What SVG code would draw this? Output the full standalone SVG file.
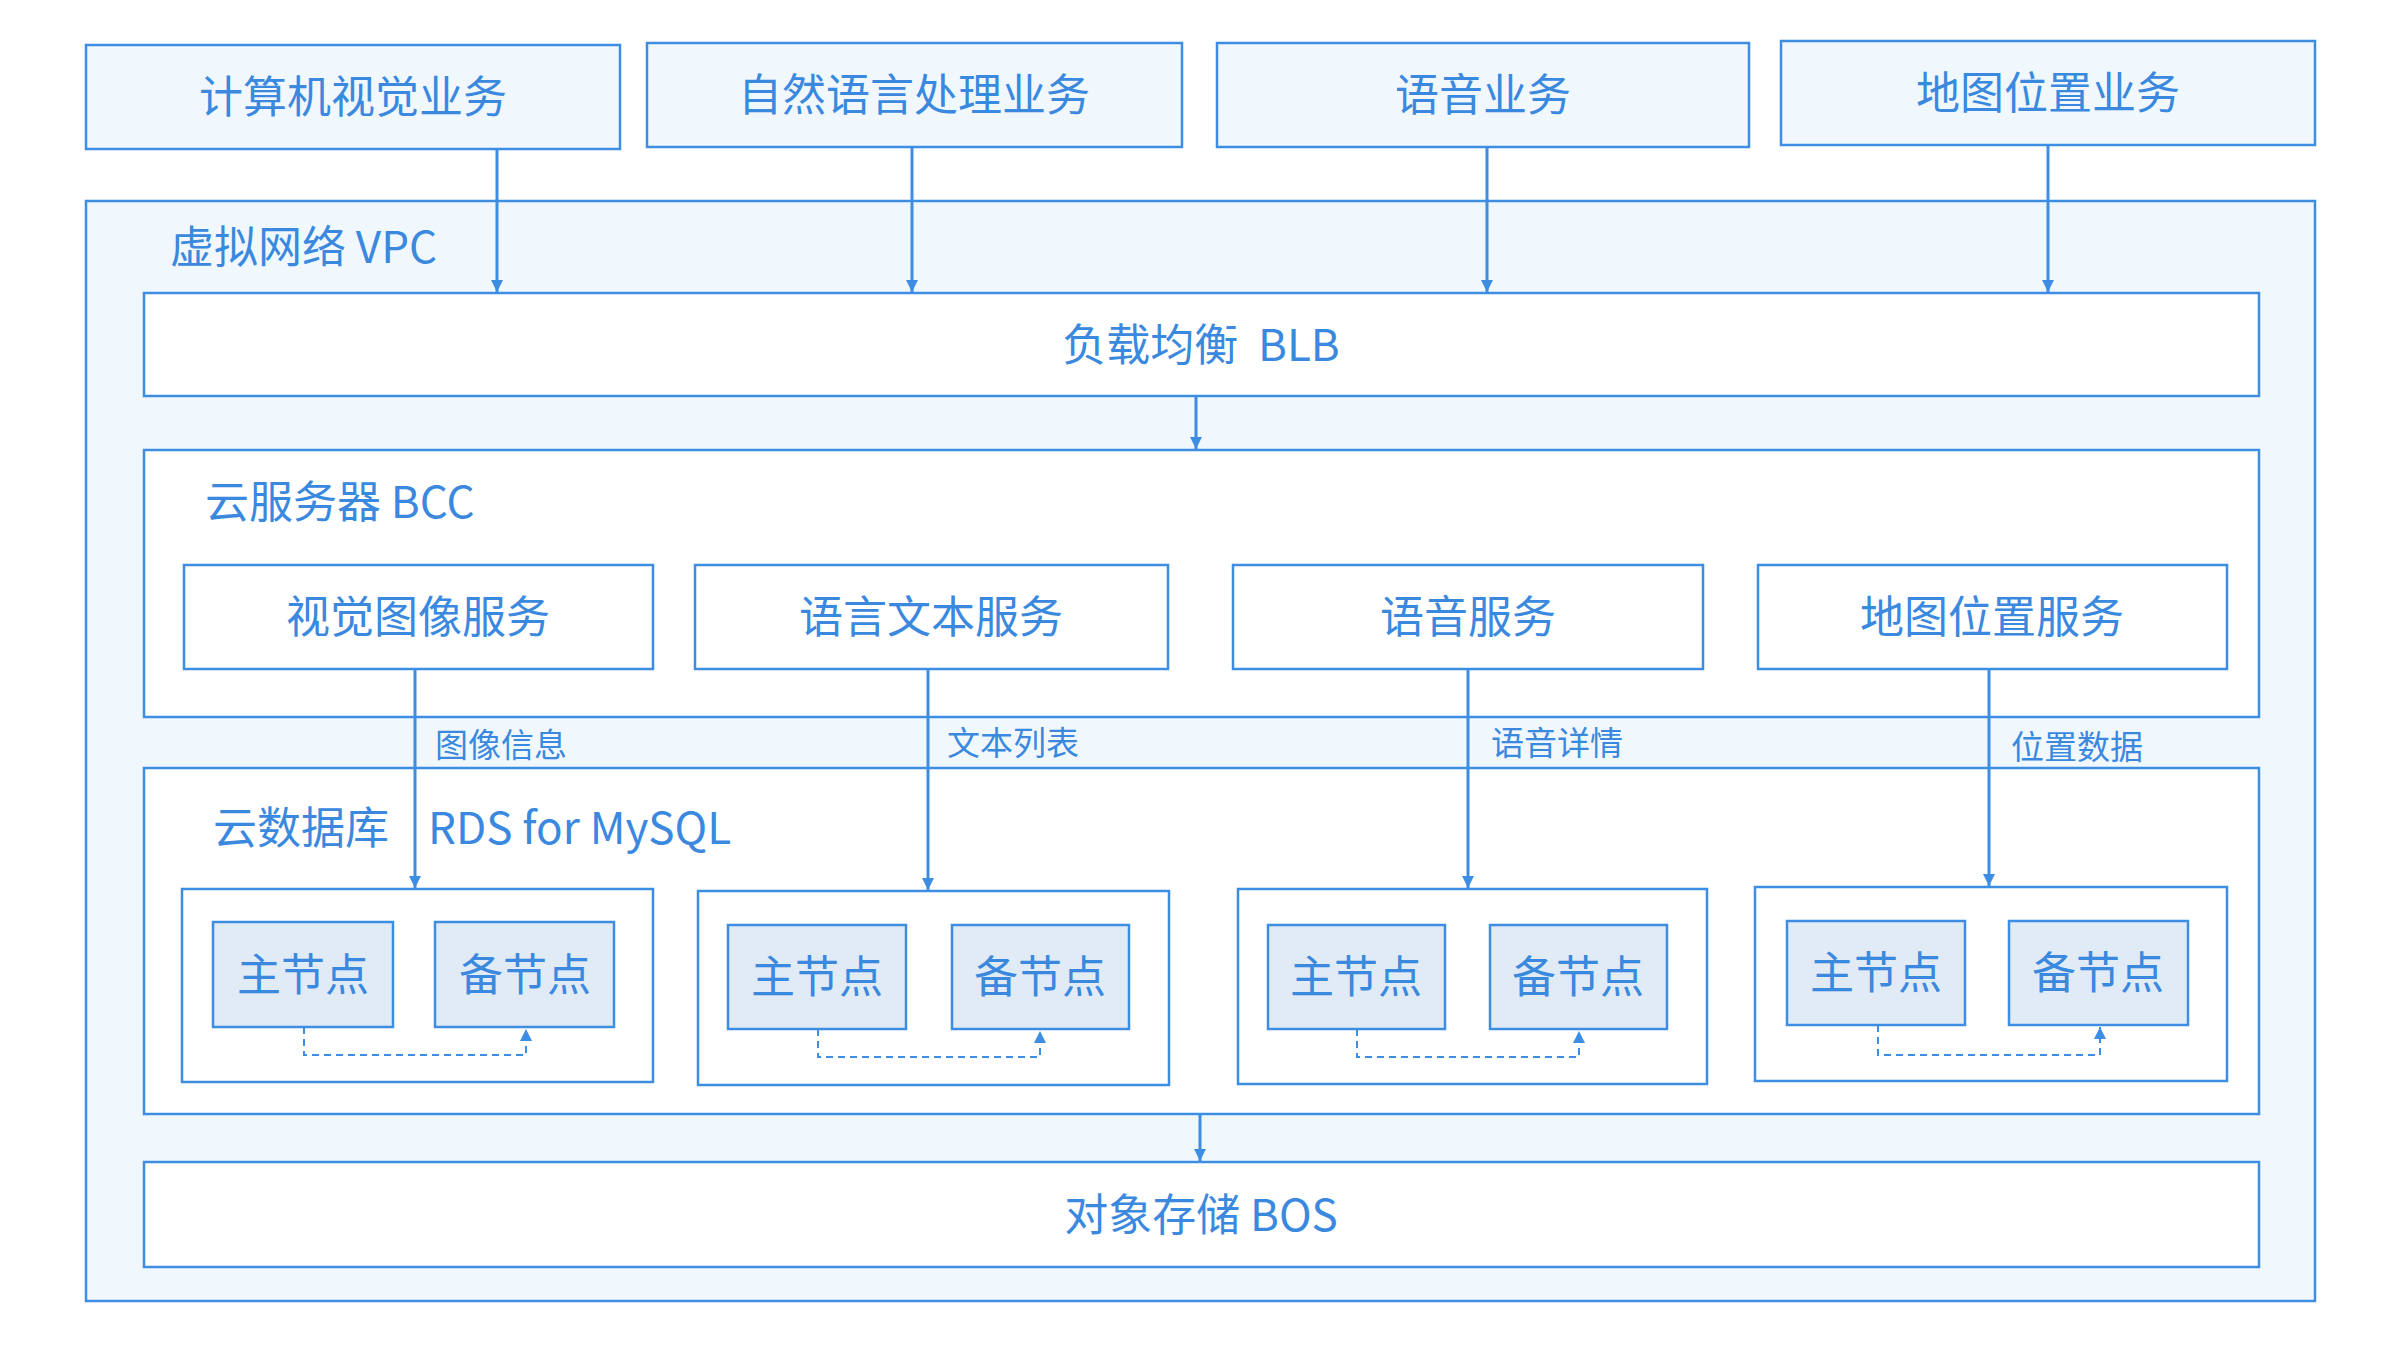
<svg xmlns="http://www.w3.org/2000/svg" width="2396" height="1350" viewBox="0 0 2396 1350">
<defs>
<style>
.b{fill:#f1f8fd;stroke:#3d8de3;stroke-width:2.5}
.w{fill:#ffffff;stroke:#3d8de3;stroke-width:2.5}
.n{fill:#e1ebf6;stroke:#3d8de3;stroke-width:2.5}
text{font-family:"Noto Sans CJK SC","Noto Sans",sans-serif;fill:#3a89df}
.t{font-size:44px;text-anchor:middle;dominant-baseline:central}
.l{font-size:44px}
.s{font-size:33px}
.c{stroke:#3d8de3;stroke-width:3;fill:none}
.d{stroke:#3d8de3;stroke-width:2;fill:none;stroke-dasharray:7 5}
</style>
<marker id="a" viewBox="0 0 10 10" refX="10" refY="5" markerWidth="16" markerHeight="12" markerUnits="userSpaceOnUse" orient="auto"><path d="M0,0L10,5L0,10z" fill="#3d8de3"/></marker>
<marker id="a2" viewBox="0 0 10 10" refX="10" refY="5" markerWidth="14" markerHeight="12" markerUnits="userSpaceOnUse" orient="auto"><path d="M0,0L10,5L0,10z" fill="#3d8de3"/></marker>
</defs>
<g id="vpc"><rect class="b" x="86" y="201" width="2229" height="1100"/><text class="l" x="170" y="263">虚拟网络 VPC</text></g>
<g id="top1"><rect class="b" x="86" y="45" width="534" height="104"/><text class="t" x="353" y="94">计算机视觉业务</text></g>
<g id="top2"><rect class="b" x="647" y="43" width="535" height="104"/><text class="t" x="914" y="92">自然语言处理业务</text></g>
<g id="top3"><rect class="b" x="1217" y="43" width="532" height="104"/><text class="t" x="1483" y="92">语音业务</text></g>
<g id="top4"><rect class="b" x="1781" y="41" width="534" height="104"/><text class="t" x="2048" y="90">地图位置业务</text></g>
<g id="blb"><rect class="w" x="144" y="293" width="2115" height="103"/><text class="t" x="1201" y="342">负载均衡&#160;&#160;BLB</text></g>
<g id="bcc"><rect class="w" x="144" y="450" width="2115" height="267"/><text class="l" x="205" y="518">云服务器 BCC</text></g>
<g id="svc1"><rect class="w" x="184" y="565" width="469" height="104"/><text class="t" x="418" y="614">视觉图像服务</text></g>
<g id="svc2"><rect class="w" x="695" y="565" width="473" height="104"/><text class="t" x="931" y="614">语言文本服务</text></g>
<g id="svc3"><rect class="w" x="1233" y="565" width="470" height="104"/><text class="t" x="1468" y="614">语音服务</text></g>
<g id="svc4"><rect class="w" x="1758" y="565" width="469" height="104"/><text class="t" x="1992" y="614">地图位置服务</text></g>
<g id="rds"><rect class="w" x="144" y="768" width="2115" height="346"/><text class="l" x="213" y="844">云数据库</text><text class="l" x="428" y="844">RDS for MySQL</text></g>
<g id="db1"><rect class="w" x="182" y="889" width="471" height="193"/>
<rect class="n" x="213" y="922" width="180" height="105"/><text class="t" x="303" y="972">主节点</text>
<rect class="n" x="435" y="922" width="179" height="105"/><text class="t" x="525" y="972">备节点</text></g>
<g id="db2"><rect class="w" x="698" y="891" width="471" height="194"/>
<rect class="n" x="728" y="925" width="178" height="104"/><text class="t" x="817" y="974">主节点</text>
<rect class="n" x="952" y="925" width="177" height="104"/><text class="t" x="1040" y="974">备节点</text></g>
<g id="db3"><rect class="w" x="1238" y="889" width="469" height="195"/>
<rect class="n" x="1268" y="925" width="177" height="104"/><text class="t" x="1356" y="974">主节点</text>
<rect class="n" x="1490" y="925" width="177" height="104"/><text class="t" x="1578" y="974">备节点</text></g>
<g id="db4"><rect class="w" x="1755" y="887" width="472" height="194"/>
<rect class="n" x="1787" y="921" width="178" height="104"/><text class="t" x="1876" y="970">主节点</text>
<rect class="n" x="2009" y="921" width="179" height="104"/><text class="t" x="2098" y="970">备节点</text></g>
<g id="bos"><rect class="w" x="144" y="1162" width="2115" height="105"/><text class="t" x="1201" y="1212">对象存储 BOS</text></g>
<g id="connectors">
<path class="c" marker-end="url(#a)" d="M497,149V292"/>
<path class="c" marker-end="url(#a)" d="M912,147V292"/>
<path class="c" marker-end="url(#a)" d="M1487,147V292"/>
<path class="c" marker-end="url(#a)" d="M2048,145V292"/>
<path class="c" marker-end="url(#a)" d="M1196,396V449"/>
<path class="c" marker-end="url(#a)" d="M415,669V888"/>
<path class="c" marker-end="url(#a)" d="M928,669V890"/>
<path class="c" marker-end="url(#a)" d="M1468,669V888"/>
<path class="c" marker-end="url(#a)" d="M1989,669V886"/>
<path class="c" marker-end="url(#a)" d="M1200,1114V1161"/>
<path class="d" marker-end="url(#a2)" d="M304,1027V1055H526V1029"/>
<path class="d" marker-end="url(#a2)" d="M818,1029V1057H1040V1031"/>
<path class="d" marker-end="url(#a2)" d="M1357,1029V1057H1579V1031"/>
<path class="d" marker-end="url(#a2)" d="M1878,1025V1055H2100V1027"/>
<text class="s" x="435" y="757">图像信息</text>
<text class="s" x="947" y="755">文本列表</text>
<text class="s" x="1491" y="755">语音详情</text>
<text class="s" x="2011" y="759">位置数据</text>
</g>
</svg>
